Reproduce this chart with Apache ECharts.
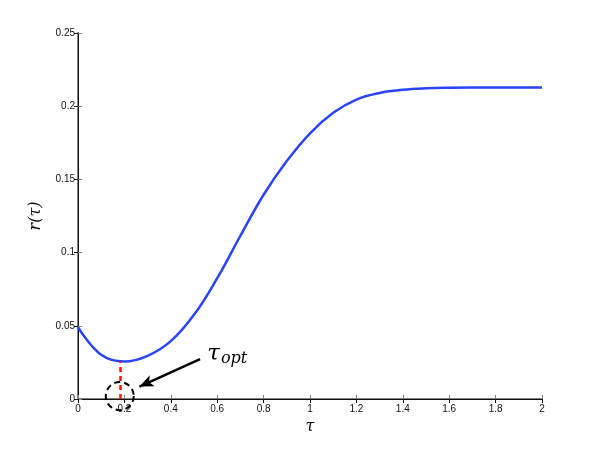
<!DOCTYPE html>
<html>
<head>
<meta charset="utf-8">
<script src="https://cdn.jsdelivr.net/npm/echarts@6/dist/echarts.min.js"></script>
<style>
  html, body { margin: 0; padding: 0; background: #fff; }
  #main { width: 599px; height: 449px; }
</style>
</head>
<body>
<div id="main"></div>
<script>
// values, every 0.1 in tau
const tau = [0, 0.1, 0.2, 0.3, 0.4, 0.5, 0.6, 0.7, 0.8, 0.9, 1.0, 1.1, 1.2, 1.3, 1.4, 1.5, 1.6, 1.7, 1.8, 1.9, 2.0];
const r = [0.049, 0.0302, 0.0256, 0.0295, 0.0395, 0.0575, 0.0825, 0.1115, 0.1395, 0.1625, 0.1815, 0.1955, 0.2045, 0.209, 0.2112, 0.2122, 0.2126, 0.2127, 0.2127, 0.2127, 0.2127];

const tauOpt = 0.184;
const rMin = 0.0256;
const circleAt = [0.18, 0.002];
const arrowFrom = [0.526, 0.0272];
const arrowTo = [0.265, 0.0085];
const labelAt = [0.555, 0.0305];

const xTicks = { min: 0, max: 2, interval: 0.2 };
const yTicks = { min: 0, max: 0.25, interval: 0.05 };

const chart = echarts.init(document.getElementById('main'));

const tickFont = { color: '#111', fontSize: 10, fontFamily: 'Liberation Sans, Arial, sans-serif' };
const serif = 'DejaVu Serif, Liberation Serif, serif';

const option = {
  animation: false,
  backgroundColor: '#fff',
  grid: { left: 78, top: 33, right: 57, bottom: 50, containLabel: false },
  xAxis: [
    {
      type: 'value', min: xTicks.min, max: xTicks.max, interval: xTicks.interval,
      position: 'bottom',
      name: 'τ', nameLocation: 'middle', nameGap: 11,
      nameTextStyle: { fontFamily: serif, fontStyle: 'italic', fontSize: 16, color: '#111' },
      axisLine: { lineStyle: { color: '#808080', width: 2 } },
      axisTick: { inside: true, length: 4, lineStyle: { color: '#808080' } },
      axisLabel: Object.assign({ margin: 5 }, tickFont),
      splitLine: { show: false }
    },
    {
      type: 'value', min: xTicks.min, max: xTicks.max, interval: xTicks.interval,
      position: 'top',
      axisLine: { lineStyle: { color: '#111', width: 1 } },
      axisTick: { inside: true, length: 4, lineStyle: { color: '#111' } },
      axisLabel: { show: false },
      splitLine: { show: false }
    }
  ],
  yAxis: [
    {
      type: 'value', min: yTicks.min, max: yTicks.max, interval: yTicks.interval,
      position: 'left',
      name: 'r(τ)', nameLocation: 'middle', nameGap: 34, nameRotate: 90,
      nameTextStyle: { fontFamily: serif, fontStyle: 'italic', fontSize: 16, color: '#111' },
      axisLine: { lineStyle: { color: '#808080', width: 2 } },
      axisTick: { inside: true, length: 4, lineStyle: { color: '#808080' } },
      axisLabel: Object.assign({ margin: 3 }, tickFont),
      splitLine: { show: false }
    },
    {
      type: 'value', min: yTicks.min, max: yTicks.max, interval: yTicks.interval,
      position: 'right',
      axisLine: { lineStyle: { color: '#111', width: 1 } },
      axisTick: { inside: true, length: 4, lineStyle: { color: '#111' } },
      axisLabel: { show: false },
      splitLine: { show: false }
    }
  ],
  series: [
    {
      type: 'line',
      data: tau.map((t, i) => [t, r[i]]),
      smooth: 0.4,
      showSymbol: false,
      lineStyle: { color: '#2a44f8', width: 2.5 },
      z: 3
    },
    {
      // red dashed drop line, dashed circle, arrow and label
      type: 'line',
      data: [],
      z: 4,
      markLine: {
        silent: true,
        animation: false,
        label: { show: false },
        data: [
          [
            { coord: [tauOpt, 0], symbol: 'none', lineStyle: { color: '#ff1010', width: 2.5, type: [5, 4] } },
            { coord: [tauOpt, rMin], symbol: 'none' }
          ],
          [
            { coord: arrowFrom, symbol: 'none', lineStyle: { color: '#000', width: 2.5, type: 'solid' } },
            { coord: arrowTo, symbol: 'arrow', symbolSize: [9, 14] }
          ]
        ]
      },
      markPoint: {
        silent: true,
        animation: false,
        data: [
          {
            coord: circleAt, symbol: 'circle', symbolSize: 28,
            itemStyle: { color: 'rgba(0,0,0,0)', borderColor: '#000', borderWidth: 2, borderType: [6, 4] },
            label: { show: false }
          },
          {
            coord: labelAt, symbol: 'rect', symbolSize: 1,
            itemStyle: { color: 'rgba(0,0,0,0)' },
            label: {
              show: true, position: 'right', distance: 0,
              formatter: '{a|τ}{b|opt}',
              rich: {
                a: { fontFamily: serif, fontStyle: 'italic', fontSize: 23, color: '#000' },
                b: { fontFamily: serif, fontStyle: 'italic', fontSize: 16, color: '#000', padding: [9, 0, 0, 1] }
              }
            }
          }
        ]
      }
    }
  ]
};

chart.setOption(option);
</script>
</body>
</html>
